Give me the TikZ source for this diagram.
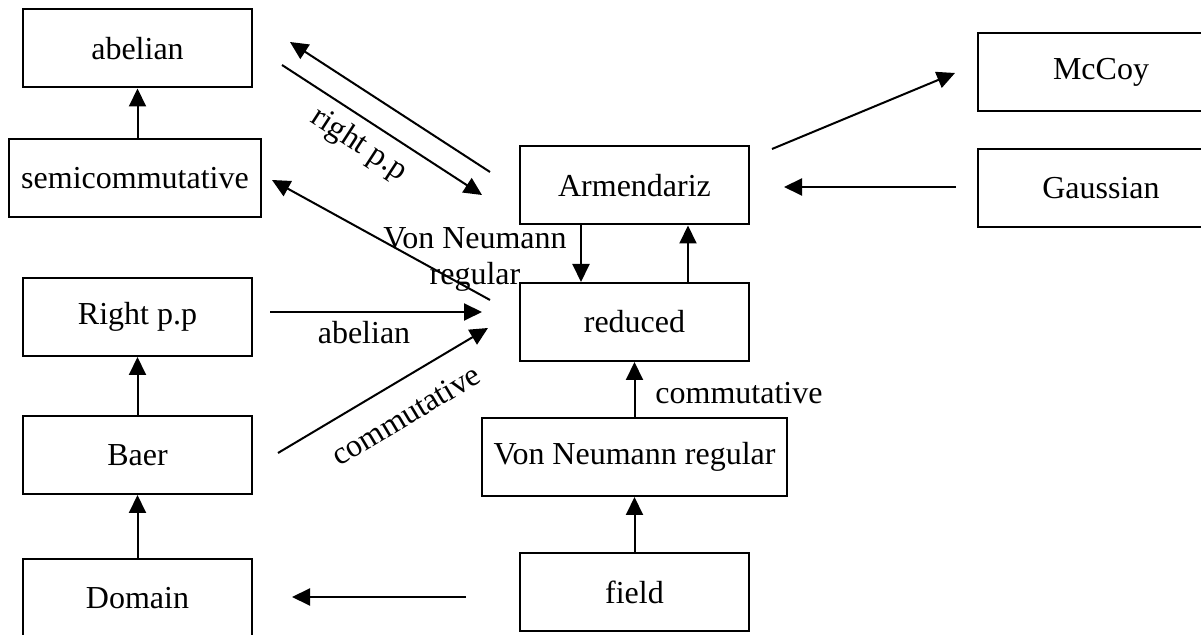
\documentclass[tikz,border=0pt]{standalone}
\usepackage{fontspec}
\setmainfont{Liberation Serif}
\usetikzlibrary{arrows.meta}
\tikzset{
  ring/.style = {draw, line width = 1pt, inner sep = 0pt, minimum width = 114.5pt, minimum height = 39pt},
  imp/.style = {line width = 1pt, -{Triangle[length = 9pt, width = 8.5pt]}}
}
\begin{document}
\begin{tikzpicture}[x = 0.5pt, y = -0.5pt, font = \fontsize{16}{18}\selectfont]
\useasboundingbox (0,0) rectangle (1201,635);

\node[ring] (abelian) at (137.5,48.5) {abelian};
\node[ring, minimum width = 126pt] (semicomm) at (135,178.5) {semicommutative};
\node[ring] (rightpp) at (137.5,317) {Right p.p};
\node[ring] (baer) at (137.5,455) {Baer};
\node[ring] (domain) at (137.5,598) {Domain};
\node[ring] (armendariz) at (634.5,185.5) {Armendariz};
\node[ring] (reduced) at (634.5,322) {reduced};
\node[ring, minimum width = 152.5pt] (vnr) at (634.5,457) {Von Neumann regular};
\node[ring] (field) at (634.5,592) {field};
\node[ring, minimum width = 123pt] (mccoy) at (1101,72) {McCoy};
\node[ring, minimum width = 123pt] (gaussian) at (1101,188.5) {Gaussian};

\draw[imp] (abelian.south |- semicomm.north) -- (abelian.south);
\draw[imp] (baer.north) -- (rightpp.south);
\draw[imp] (domain.north) -- (baer.south);
\draw[imp] ([xshift = -26.75pt]armendariz.south) -- ([xshift = -26.75pt]reduced.north);
\draw[imp] ([xshift = 26.75pt]reduced.north) -- ([xshift = 26.75pt]armendariz.south);
\draw[imp] (field.north) -- (vnr.south);
\draw[imp] (vnr.north) -- (reduced.south);

\coordinate (arm1) at (490,172);
\coordinate (abe1) at (290,42);
\coordinate (abe2) at (282,65);
\coordinate (arm2) at (482,195);
\coordinate (red1) at (490,300);
\coordinate (sem1) at (272,180);
\coordinate (rpp1) at (270,312);
\coordinate (red2) at (482,312);
\coordinate (bae1) at (278,453);
\coordinate (red3) at (488,328);
\coordinate (fie1) at (466,597);
\coordinate (dom1) at (292,597);
\coordinate (gau1) at (956,187);
\coordinate (arm3) at (784,187);
\coordinate (arm4) at (772,149);
\coordinate (mcc1) at (955,73);

\draw[imp] (arm1) -- (abe1);
\draw[imp] (abe2) -- (arm2);
\draw[imp] (red1) -- (sem1);
\draw[imp] (rpp1) -- (red2);
\draw[imp] (bae1) -- (red3);
\draw[imp] (fie1) -- (dom1);
\draw[imp] (gau1) -- (arm3);
\draw[imp] (arm4) -- (mcc1);

\node[rotate = -33] (lblrpp) at (359,145) {right p.p};
\node[align = center] (lblvnr) at (475,259) {Von Neumann\\regular};
\node (lblab) at (364,333) {abelian};
\node[rotate = 31] (lblcom) at (406,415) {commutative};
\node (lblcom2) at (739,393) {commutative};
\end{tikzpicture}
\end{document}
